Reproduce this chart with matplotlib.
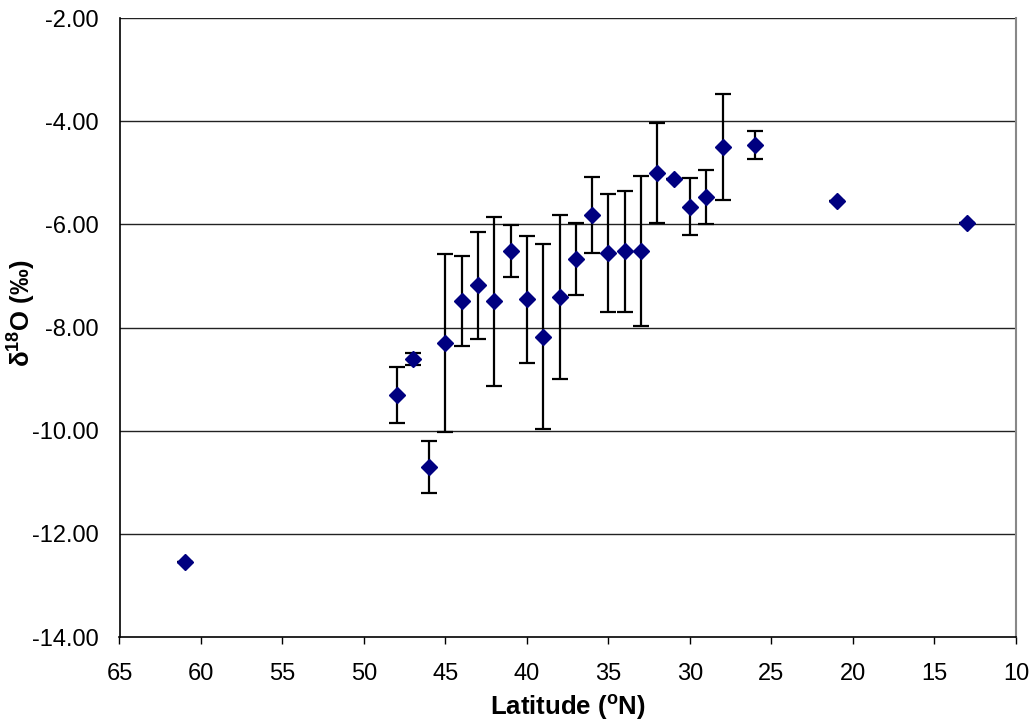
import matplotlib.pyplot as plt

plt.rcParams['font.family'] = ['Liberation Sans', 'DejaVu Sans']
plt.rcParams['mathtext.fontset'] = 'custom'
plt.rcParams['mathtext.rm'] = 'Liberation Sans'
plt.rcParams['mathtext.bf'] = 'Liberation Sans:bold'

# latitude (deg N), mean d18O and error (half-length of bar)
lat = [61, 48, 47, 46, 45, 44, 43, 42, 41, 40, 39, 38, 37, 36, 35, 34, 33, 32, 31, 30, 29, 28, 26, 21, 13]
d18o = [-12.55, -9.31, -8.61, -10.70, -8.30, -7.49, -7.18, -7.49, -6.52, -7.45, -8.18, -7.41, -6.67,
        -5.82, -6.56, -6.52, -6.52, -5.00, -5.12, -5.66, -5.47, -4.50, -4.46, -5.55, -5.98]
err = [0.0, 0.54, 0.12, 0.50, 1.72, 0.87, 1.04, 1.64, 0.50, 1.23, 1.79, 1.59, 0.70,
       0.73, 1.14, 1.17, 1.45, 0.97, 0.0, 0.55, 0.52, 1.03, 0.27, 0.0, 0.0]

yticks = [-14, -12, -10, -8, -6, -4, -2]
xticks = [65, 60, 55, 50, 45, 40, 35, 30, 25, 20, 15, 10]

fig = plt.figure(figsize=(10.33, 7.21), dpi=100)
ax = fig.add_axes([119.5 / 1033, 1 - 637 / 721, (1016 - 119.5) / 1033, (637 - 18) / 721])

# gridlines
for y in yticks[1:]:
    ax.axhline(y, color='#222222', lw=1.0, zorder=1)

ax.errorbar(lat, d18o, yerr=err, fmt='none', ecolor='black', elinewidth=1.6,
            capsize=5.5, capthick=1.6, zorder=2)
ax.plot(lat, d18o, 'D', color='#000080', ms=8, mec='#000080', zorder=3)

ax.set_xlim(65, 10)
ax.set_ylim(-14, -2)
ax.set_xticks(xticks)
ax.set_yticks(yticks)
ax.set_yticklabels(['%.2f' % v for v in yticks])

ax.tick_params(axis='y', length=0, pad=15, labelsize=17)
ax.tick_params(axis='x', direction='out', length=5, width=1, pad=14, labelsize=17)

for s in ['left', 'bottom']:
    ax.spines[s].set_color('black')
    ax.spines[s].set_linewidth(1.2)
ax.spines['top'].set_visible(False)
ax.spines['right'].set_color('#888888')
ax.spines['right'].set_linewidth(1.5)

ax.set_xlabel(r'Latitude ($^{\mathbf{o}}$N)', fontsize=18.5, fontweight='bold', labelpad=5)
ax.set_ylabel(r'δ$^{\mathbf{18}}$O (‰)', fontsize=18.5, fontweight='bold')
ax.yaxis.set_label_coords(-0.092, 0.523)

fig.savefig('out.png', dpi=100)
